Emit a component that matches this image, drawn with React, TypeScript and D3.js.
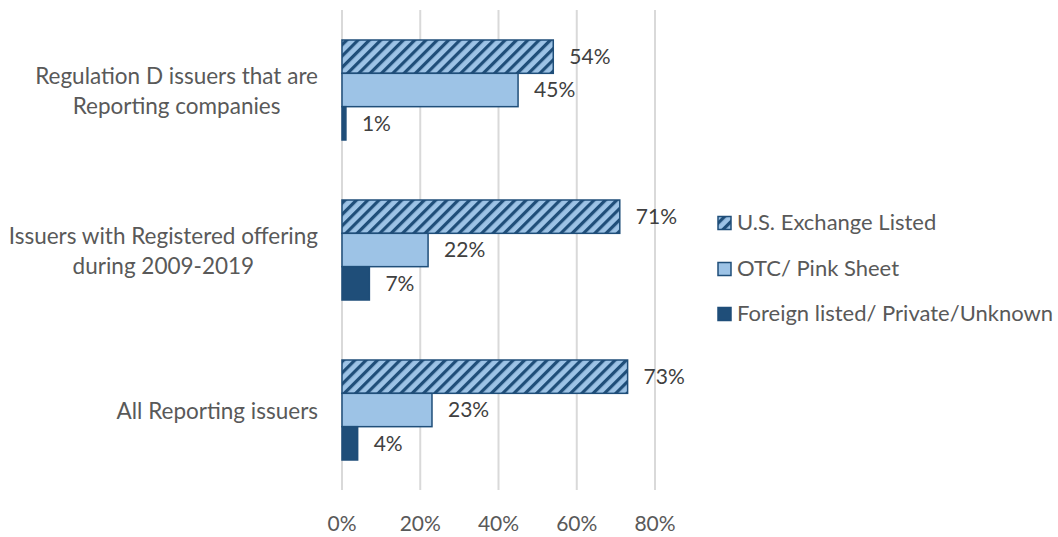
import React, { useEffect, useRef } from "react";
import * as d3 from "d3";

const categories = [
  ["Regulation D issuers that are", "Reporting companies"],
  ["Issuers with Registered offering", "during 2009-2019"],
  ["All Reporting issuers"],
];
const seriesNames = ["U.S. Exchange Listed", "OTC/ Pink Sheet", "Foreign listed/ Private/Unknown"];
const usExchange = [54, 71, 73];
const otcPink = [45, 22, 23];
const foreignOther = [1, 7, 4];
const xTicks = [0, 20, 40, 60, 80];

const DARK = "#1F4E79";
const LIGHT = "#9DC3E6";
const FONT = "Lato, 'Open Sans', sans-serif";

export default function App() {
  const ref = useRef<SVGSVGElement>(null);
  useEffect(() => {
    const svg = d3.select(ref.current);
    svg.selectAll("*").remove();
    const defs = svg.append("defs");
    const pat = defs
      .append("pattern")
      .attr("id", "hatch")
      .attr("patternUnits", "userSpaceOnUse")
      .attr("width", 8)
      .attr("height", 8)
      .attr("patternTransform", "rotate(45)");
    pat.append("rect").attr("width", 8).attr("height", 8).attr("fill", LIGHT);
    pat.append("rect").attr("x", 0).attr("width", 3.2).attr("height", 8).attr("fill", DARK);

    const x = d3.scaleLinear().domain([0, 80]).range([342, 655]);
    const y = d3.scaleBand<number>().domain([0, 1, 2]).range([10, 490]).paddingInner(0.375).paddingOuter(0.1875);
    const sub = d3.scaleBand<number>().domain([0, 1, 2]).range([0, y.bandwidth()]);

    svg
      .append("g")
      .selectAll("line")
      .data(xTicks)
      .join("line")
      .attr("x1", (d) => x(d))
      .attr("x2", (d) => x(d))
      .attr("y1", 10)
      .attr("y2", 490)
      .attr("stroke", "#D9D9D9")
      .attr("stroke-width", 2);

    svg
      .append("g")
      .selectAll("text")
      .data(xTicks)
      .join("text")
      .attr("x", (d) => x(d))
      .attr("y", 526)
      .attr("text-anchor", "middle")
      .attr("dominant-baseline", "middle")
      .attr("font-family", FONT)
      .attr("font-size", 21)
      .attr("fill", "#595959")
      .text((d) => d + "%");

    const series = [usExchange, otcPink, foreignOther];
    const fills = ["url(#hatch)", LIGHT, DARK];
    series.forEach((vals, si) => {
      const g = svg.append("g");
      g.selectAll("rect")
        .data(vals)
        .join("rect")
        .attr("x", x(0))
        .attr("y", (_, i) => (y(i) as number) + (sub(si) as number))
        .attr("width", (d) => x(d) - x(0))
        .attr("height", sub.bandwidth())
        .attr("fill", fills[si])
        .attr("stroke", DARK)
        .attr("stroke-width", 1.5);
      g.selectAll("text")
        .data(vals)
        .join("text")
        .attr("x", (d) => x(d) + 16)
        .attr("y", (_, i) => (y(i) as number) + (sub(si) as number) + sub.bandwidth() / 2 + 2)
        .attr("dominant-baseline", "middle")
        .attr("font-family", FONT)
        .attr("font-size", 21)
        .attr("fill", "#404040")
        .text((d) => d + "%");
    });

    categories.forEach((lines, i) => {
      const cy = (y(i) as number) + y.bandwidth() / 2;
      const lh = 30;
      const g = svg.append("g");
      const texts = lines.map((l, li) =>
        g
          .append("text")
          .attr("y", cy + (li - (lines.length - 1) / 2) * lh + 3)
          .attr("dominant-baseline", "middle")
          .attr("text-anchor", "middle")
          .attr("font-family", FONT)
          .attr("font-size", 22.5)
          .attr("fill", "#595959")
          .text(l)
      );
      const widths = texts.map((t) => (t.node() as SVGTextElement).getComputedTextLength());
      const maxW = Math.max(...widths);
      const right = 318;
      texts.forEach((t) => t.attr("x", right - maxW / 2));
    });

    const legY = [223, 269, 314];
    const lg = svg.append("g");
    seriesNames.forEach((n, i) => {
      lg.append("rect")
        .attr("x", 718)
        .attr("y", legY[i] - 6.5)
        .attr("width", 13)
        .attr("height", 13)
        .attr("fill", fills[i])
        .attr("stroke", DARK)
        .attr("stroke-width", 1.5);
      lg.append("text")
        .attr("x", 737)
        .attr("y", legY[i] + 1)
        .attr("dominant-baseline", "middle")
        .attr("font-family", FONT)
        .attr("font-size", 22)
        .attr("fill", "#595959")
        .text(n);
    });
  }, []);
  return (
    <svg
      ref={ref}
      width={1058}
      height={537}
      style={{ position: "absolute", left: 0, top: 0, background: "#fff" }}
    />
  );
}
